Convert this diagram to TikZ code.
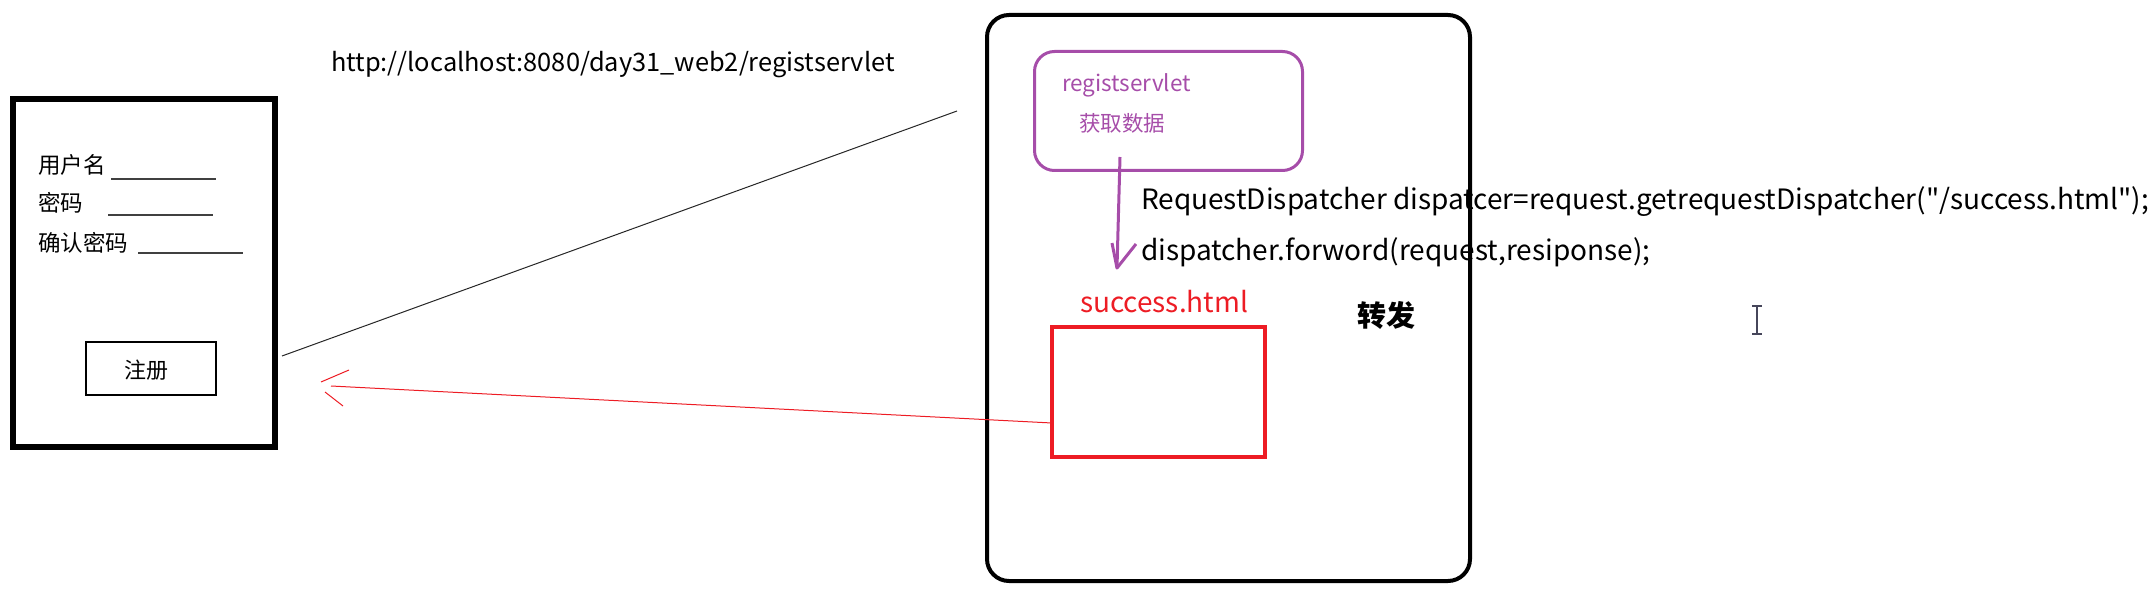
\documentclass[tikz,border=0pt]{standalone}
\usepackage{fontspec}
\setmainfont{Noto Sans CJK SC}
\newfontfamily\codefont[Ligatures=TeXOff]{Noto Sans CJK SC}
\usetikzlibrary{calc}
\definecolor{pur}{RGB}{166,77,169}
\definecolor{myred}{RGB}{237,28,36}
\definecolor{cur}{RGB}{70,70,90}
\tikzset{
  plain/.style={inner sep=0pt, outer sep=0pt},
  txt/.style={plain, anchor=west},
  formbox/.style={draw=black, line width=6pt, plain},
  btnbox/.style={draw=black, line width=1.2pt, plain},
  serverbox/.style={draw=black, line width=4pt, rounded corners=22pt, plain},
  servletbox/.style={draw=pur, line width=3pt, rounded corners=20pt, plain},
  pagebox/.style={draw=myred, line width=3.5pt, plain},
  uline/.style={line width=1.2pt, black!75},
}
\begin{document}
\begin{tikzpicture}[x=1pt, y=-1pt]
\useasboundingbox (0,0) rectangle (2156,596);
% form
\node[formbox, minimum width=262pt, minimum height=348pt] (form) at (144,273) {};
\node[txt, font=\fontsize{22.5}{22.5}\selectfont] (u1) at (38,165) {用户名};
\node[txt, font=\fontsize{22.5}{22.5}\selectfont] (u2) at (38,203) {密码};
\node[txt, font=\fontsize{22.5}{22.5}\selectfont] (u3) at (38,243) {确认密码};
\coordinate (l1a) at (111,179); \coordinate (l1b) at (216,179);
\coordinate (l2a) at (108,215); \coordinate (l2b) at (213,215);
\coordinate (l3a) at (138,253); \coordinate (l3b) at (243,253);
\draw[uline] (l1a) -- (l1b);
\draw[uline] (l2a) -- (l2b);
\draw[uline] (l3a) -- (l3b);
\node[btnbox, minimum width=130pt, minimum height=53pt] (btn) at (151,368.5) {};
\node[plain, font=\fontsize{22}{22}\selectfont] (btntxt) at (146,370) {注册};
% url
\node[txt, font=\fontsize{25.4}{25.4}\selectfont] (url) at (331,65) {http://localhost:8080/day31\_web2/registservlet};
% server
\node[serverbox, minimum width=483pt, minimum height=566pt] (server) at (1228.5,298) {};
\node[servletbox, minimum width=268pt, minimum height=119pt] (servlet) at (1168.5,111) {};
\node[txt, font=\fontsize{22.5}{22.5}\selectfont, text=pur] (sname) at (1062,85) {registservlet};
\node[txt, font=\fontsize{21.5}{21.5}\selectfont, text=pur] (sget) at (1079,123) {获取数据};
\node[txt, font=\codefont\fontsize{28}{28}\selectfont] (code1) at (1141,202) {RequestDispatcher dispatcer=request.getrequestDispatcher("/success.html");};
\node[txt, font=\codefont\fontsize{28}{28}\selectfont] (code2) at (1141,252) {dispatcher.forword(request,resiponse);};
\node[txt, font=\fontsize{28}{28}\selectfont, text=myred] (sname2) at (1080,302) {success.html};
\node[pagebox, minimum width=213pt, minimum height=130pt] (succ) at (1158.5,392) {};
\node[txt, font=\fontsize{29}{29}\selectfont\bfseries] (zf) at (1357,315) {转发};
% purple arrow
\coordinate (pstart) at (1120,157);
\coordinate (ptip) at (1117,268);
\coordinate (pl) at (1112,243);
\coordinate (pr) at (1136,244);
\draw[pur, line width=3pt] (pstart) -- (ptip);
\draw[pur, line width=3pt, line join=round] (pl) -- (ptip) -- (pr);
% black line
\coordinate (ba) at (282,356);
\coordinate (bb) at (957,111);
\draw[black!85, line width=1pt] (ba) -- (bb);
% red arrow
\coordinate (rtip) at (331,386);
\draw[myred, line width=1pt] ($(succ.west)+(0,31)$) -- (rtip);
\coordinate (h1a) at (321,382); \coordinate (h1b) at (349,370);
\coordinate (h2a) at (325,392); \coordinate (h2b) at (343,406);
\draw[myred, line width=1pt] (h1a) -- (h1b);
\draw[myred, line width=1pt] (h2a) -- (h2b);
% text cursor
\coordinate (ct) at (1757,306); \coordinate (cb) at (1757,334);
\draw[cur, line width=1.5pt] (ct) -- (cb);
\draw[cur, line width=1.2pt] ($(ct)+(-5,0)$) -- ($(ct)+(5,0)$);
\draw[cur, line width=1.2pt] ($(cb)+(-5,0)$) -- ($(cb)+(5,0)$);
\end{tikzpicture}
\end{document}
